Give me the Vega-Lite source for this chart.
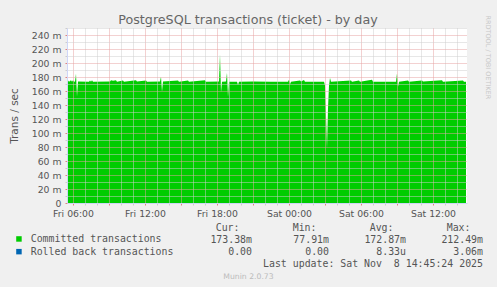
{
  "$schema": "https://vega.github.io/schema/vega-lite/v6.json",
  "width": 400,
  "height": 175,
  "autosize": {"type": "none"},
  "padding": {"left": 67, "top": 28, "right": 30, "bottom": 84},
  "background": "#f0f0f0",
  "title": {
    "text": "PostgreSQL transactions (ticket) - by day",
    "font": "DejaVu Sans",
    "fontSize": 12.7,
    "fontWeight": "normal",
    "color": "#666666",
    "anchor": "middle",
    "frame": "group",
    "dx": -19,
    "offset": -12
  },
  "datasets": {
    "committed": [
      {"series": "Committed transactions", "hour": 5.5, "value": 0.1734},
      {"series": "Committed transactions", "hour": 5.5833, "value": 0.1750},
      {"series": "Committed transactions", "hour": 5.6667, "value": 0.1733},
      {"series": "Committed transactions", "hour": 5.8333, "value": 0.1752},
      {"series": "Committed transactions", "hour": 5.9167, "value": 0.1733},
      {"series": "Committed transactions", "hour": 6.0, "value": 0.1755},
      {"series": "Committed transactions", "hour": 6.0833, "value": 0.1734},
      {"series": "Committed transactions", "hour": 6.1667, "value": 0.1733},
      {"series": "Committed transactions", "hour": 6.25, "value": 0.1845},
      {"series": "Committed transactions", "hour": 6.3333, "value": 0.1520},
      {"series": "Committed transactions", "hour": 6.4167, "value": 0.1735},
      {"series": "Committed transactions", "hour": 7.3333, "value": 0.1733},
      {"series": "Committed transactions", "hour": 7.4167, "value": 0.1750},
      {"series": "Committed transactions", "hour": 7.5, "value": 0.1732},
      {"series": "Committed transactions", "hour": 7.5833, "value": 0.1752},
      {"series": "Committed transactions", "hour": 7.6667, "value": 0.1733},
      {"series": "Committed transactions", "hour": 9.0833, "value": 0.1734},
      {"series": "Committed transactions", "hour": 9.1667, "value": 0.1753},
      {"series": "Committed transactions", "hour": 9.3333, "value": 0.1746},
      {"series": "Committed transactions", "hour": 9.5833, "value": 0.1754},
      {"series": "Committed transactions", "hour": 9.6667, "value": 0.1733},
      {"series": "Committed transactions", "hour": 10.1667, "value": 0.1749},
      {"series": "Committed transactions", "hour": 10.25, "value": 0.1733},
      {"series": "Committed transactions", "hour": 11.25, "value": 0.1752},
      {"series": "Committed transactions", "hour": 11.3333, "value": 0.1734},
      {"series": "Committed transactions", "hour": 12.0833, "value": 0.1750},
      {"series": "Committed transactions", "hour": 12.1667, "value": 0.1733},
      {"series": "Committed transactions", "hour": 13.25, "value": 0.1734},
      {"series": "Committed transactions", "hour": 13.3333, "value": 0.1805},
      {"series": "Committed transactions", "hour": 13.4167, "value": 0.1590},
      {"series": "Committed transactions", "hour": 13.5, "value": 0.1735},
      {"series": "Committed transactions", "hour": 14.75, "value": 0.1751},
      {"series": "Committed transactions", "hour": 14.8333, "value": 0.1733},
      {"series": "Committed transactions", "hour": 15.5833, "value": 0.1750},
      {"series": "Committed transactions", "hour": 15.6667, "value": 0.1732},
      {"series": "Committed transactions", "hour": 17.0, "value": 0.1753},
      {"series": "Committed transactions", "hour": 17.0833, "value": 0.1733},
      {"series": "Committed transactions", "hour": 18.1667, "value": 0.1734},
      {"series": "Committed transactions", "hour": 18.25, "value": 0.21249},
      {"series": "Committed transactions", "hour": 18.3333, "value": 0.1580},
      {"series": "Committed transactions", "hour": 18.4167, "value": 0.1733},
      {"series": "Committed transactions", "hour": 18.75, "value": 0.1734},
      {"series": "Committed transactions", "hour": 18.8333, "value": 0.1860},
      {"series": "Committed transactions", "hour": 18.9167, "value": 0.1515},
      {"series": "Committed transactions", "hour": 19.0, "value": 0.1733},
      {"series": "Committed transactions", "hour": 19.6667, "value": 0.1733},
      {"series": "Committed transactions", "hour": 19.75, "value": 0.1685},
      {"series": "Committed transactions", "hour": 19.8333, "value": 0.1732},
      {"series": "Committed transactions", "hour": 21.0, "value": 0.1735},
      {"series": "Committed transactions", "hour": 22.5, "value": 0.1732},
      {"series": "Committed transactions", "hour": 23.9167, "value": 0.1733},
      {"series": "Committed transactions", "hour": 24.0, "value": 0.1762},
      {"series": "Committed transactions", "hour": 24.0833, "value": 0.1695},
      {"series": "Committed transactions", "hour": 24.1667, "value": 0.1733},
      {"series": "Committed transactions", "hour": 24.9167, "value": 0.1750},
      {"series": "Committed transactions", "hour": 25.0, "value": 0.1734},
      {"series": "Committed transactions", "hour": 25.25, "value": 0.1756},
      {"series": "Committed transactions", "hour": 25.3333, "value": 0.1733},
      {"series": "Committed transactions", "hour": 26.9167, "value": 0.1733},
      {"series": "Committed transactions", "hour": 27.0, "value": 0.1680},
      {"series": "Committed transactions", "hour": 27.0833, "value": 0.1250},
      {"series": "Committed transactions", "hour": 27.1667, "value": 0.07791},
      {"series": "Committed transactions", "hour": 27.25, "value": 0.1350},
      {"series": "Committed transactions", "hour": 27.3333, "value": 0.1680},
      {"series": "Committed transactions", "hour": 27.4167, "value": 0.1785},
      {"series": "Committed transactions", "hour": 27.5, "value": 0.1733},
      {"series": "Committed transactions", "hour": 29.1667, "value": 0.1750},
      {"series": "Committed transactions", "hour": 29.25, "value": 0.1733},
      {"series": "Committed transactions", "hour": 29.8333, "value": 0.1750},
      {"series": "Committed transactions", "hour": 29.9167, "value": 0.1733},
      {"series": "Committed transactions", "hour": 30.9167, "value": 0.1760},
      {"series": "Committed transactions", "hour": 31.0, "value": 0.1733},
      {"series": "Committed transactions", "hour": 32.9167, "value": 0.1733},
      {"series": "Committed transactions", "hour": 33.0, "value": 0.1850},
      {"series": "Committed transactions", "hour": 33.0833, "value": 0.1660},
      {"series": "Committed transactions", "hour": 33.1667, "value": 0.1733},
      {"series": "Committed transactions", "hour": 33.9167, "value": 0.1750},
      {"series": "Committed transactions", "hour": 34.0, "value": 0.1733},
      {"series": "Committed transactions", "hour": 35.0833, "value": 0.1750},
      {"series": "Committed transactions", "hour": 35.1667, "value": 0.1734},
      {"series": "Committed transactions", "hour": 36.75, "value": 0.1752},
      {"series": "Committed transactions", "hour": 36.8333, "value": 0.1733},
      {"series": "Committed transactions", "hour": 38.5, "value": 0.1750},
      {"series": "Committed transactions", "hour": 38.5833, "value": 0.1733},
      {"series": "Committed transactions", "hour": 38.75, "value": 0.17338}
    ],
    "table": [
      {"row": "header", "col": "Cur", "text": "Cur:"},
      {"row": "header", "col": "Min", "text": "Min:"},
      {"row": "header", "col": "Avg", "text": "Avg:"},
      {"row": "header", "col": "Max", "text": "Max:"},
      {"row": "Committed transactions", "col": "Cur", "text": "173.38m"},
      {"row": "Committed transactions", "col": "Min", "text": "77.91m"},
      {"row": "Committed transactions", "col": "Avg", "text": "172.87m"},
      {"row": "Committed transactions", "col": "Max", "text": "212.49m"},
      {"row": "Rolled back transactions", "col": "Cur", "text": "0.00\u00a0"},
      {"row": "Rolled back transactions", "col": "Min", "text": "0.00\u00a0"},
      {"row": "Rolled back transactions", "col": "Avg", "text": "8.33u"},
      {"row": "Rolled back transactions", "col": "Max", "text": "3.06m"},
      {"row": "footer", "col": "Max", "text": "Last update: Sat Nov\u00a0\u00a08 14:45:24 2025"}
    ]
  },
  "layer": [
    {
      "data": {"name": "committed"},
      "mark": {"type": "area", "interpolate": "linear"},
      "encoding": {
        "x": {
          "field": "hour",
          "type": "quantitative",
          "scale": {"domain": [5.5, 38.8333], "nice": false, "zero": false},
          "axis": {
            "values": [6, 7, 8, 9, 10, 11, 12, 13, 14, 15, 16, 17, 18, 19, 20, 21, 22, 23, 24, 25, 26, 27, 28, 29, 30, 31, 32, 33, 34, 35, 36, 37, 38],
            "labelExpr": "datum.value % 6 === 0 ? (datum.value < 24 ? 'Fri ' : 'Sat ') + (datum.value % 24 < 10 ? '0' : '') + (datum.value % 24) + ':00' : ''",
            "labelOverlap": false,
            "labelFlush": false,
            "labelBound": false,
            "labelFont": "DejaVu Sans",
            "labelFontSize": 9.3,
            "labelColor": "#555555",
            "labelPadding": 4,
            "tickSize": 2,
            "tickColor": {"condition": {"test": "datum.value % 3 === 0", "value": "#e08080"}, "value": "#cccccc"},
            "grid": true,
            "gridColor": {"condition": {"test": "datum.value % 3 === 0", "value": "#e6a3a3"}, "value": "#cfcfcf"},
            "gridDash": [1, 1],
            "domainColor": "#cfd6f8",
            "zindex": 1,
            "title": "Munin 2.0.73",
            "titleFont": "DejaVu Sans",
            "titleFontSize": 7.7,
            "titleFontWeight": "normal",
            "titleColor": "#bbbbbb",
            "titleX": 181,
            "titleY": 73,
            "titleAlign": "center",
            "titleBaseline": "middle"
          }
        },
        "y": {
          "field": "value",
          "type": "quantitative",
          "stack": null,
          "scale": {"domain": [0, 0.25], "nice": false},
          "axis": {
            "values": [0, 0.01, 0.02, 0.03, 0.04, 0.05, 0.06, 0.07, 0.08, 0.09, 0.1, 0.11, 0.12, 0.13, 0.14, 0.15, 0.16, 0.17, 0.18, 0.19, 0.2, 0.21, 0.22, 0.23, 0.24, 0.25],
            "labelExpr": "round(datum.value * 1000) % 20 === 0 ? (round(datum.value * 1000) === 0 ? '0' : round(datum.value * 1000) + ' m') : ''",
            "labelFont": "DejaVu Sans",
            "labelFontSize": 9.3,
            "labelColor": "#555555",
            "labelPadding": 4,
            "labelOverlap": false,
            "labelBound": false,
            "labelFlush": false,
            "tickSize": 2,
            "tickColor": {"condition": {"test": "round(datum.value * 1000) % 20 === 0", "value": "#e08080"}, "value": "#cccccc"},
            "grid": true,
            "gridColor": {"condition": {"test": "round(datum.value * 1000) % 20 === 0", "value": "#e6a3a3"}, "value": "#cfcfcf"},
            "gridDash": [1, 1],
            "domainColor": "#cfd6f8",
            "zindex": 1,
            "title": "Trans / sec",
            "titleFont": "DejaVu Sans",
            "titleFontSize": 10.5,
            "titleFontWeight": "normal",
            "titleColor": "#555555",
            "titlePadding": 12
          }
        },
        "color": {
          "field": "series",
          "type": "nominal",
          "scale": {"domain": ["Committed transactions", "Rolled back transactions"], "range": ["#00cc00", "#0066b3"]},
          "legend": {
            "orient": "none",
            "legendX": -53,
            "legendY": 206,
            "title": null,
            "direction": "vertical",
            "symbolType": "square",
            "symbolSize": 30,
            "symbolStrokeWidth": 0,
            "labelFont": "DejaVu Sans Mono",
            "labelFontSize": 9.9,
            "labelColor": "#555555",
            "labelOffset": 6.8,
            "labelLimit": 300,
            "rowPadding": 1.7,
            "padding": 0
          }
        }
      }
    },
    {
      "data": {"name": "table"},
      "encoding": {
        "x": {"field": "col", "type": "ordinal", "scale": {"type": "point", "domain": ["Cur", "Min", "Avg", "Max"], "range": [185, 416], "padding": 0}, "axis": null},
        "y": {"field": "row", "type": "ordinal", "scale": {"type": "point", "domain": ["header", "Committed transactions", "Rolled back transactions", "footer"], "range": [200, 235.5], "padding": 0}, "axis": null},
        "text": {"field": "text", "type": "nominal"}
      },
      "layer": [
        {
          "transform": [{"filter": "datum.row === 'header'"}],
          "mark": {"type": "text", "font": "DejaVu Sans Mono", "fontSize": 9.9, "color": "#555555", "align": "right", "baseline": "middle", "dx": -12.5}
        },
        {
          "transform": [{"filter": "datum.row !== 'header'"}],
          "mark": {"type": "text", "font": "DejaVu Sans Mono", "fontSize": 9.9, "color": "#555555", "align": "right", "baseline": "middle"}
        }
      ]
    },
    {
      "mark": {"type": "rule", "opacity": 0},
      "encoding": {
        "y": {
          "datum": 0,
          "type": "quantitative",
          "axis": {
            "orient": "right",
            "domain": false,
            "ticks": false,
            "labels": false,
            "grid": false,
            "title": "RRDTOOL / TOBI OETIKER",
            "titleFont": "DejaVu Sans",
            "titleFontSize": 6.5,
            "titleFontWeight": "normal",
            "titleColor": "#c8c8c8",
            "titleAngle": 90,
            "titleX": 20,
            "titleY": -13,
            "titleAlign": "left",
            "titleBaseline": "middle"
          }
        }
      }
    }
  ],
  "resolve": {"scale": {"x": "independent", "y": "independent"}},
  "config": {
    "view": {"stroke": null, "fill": "#ffffff"}
  }
}
